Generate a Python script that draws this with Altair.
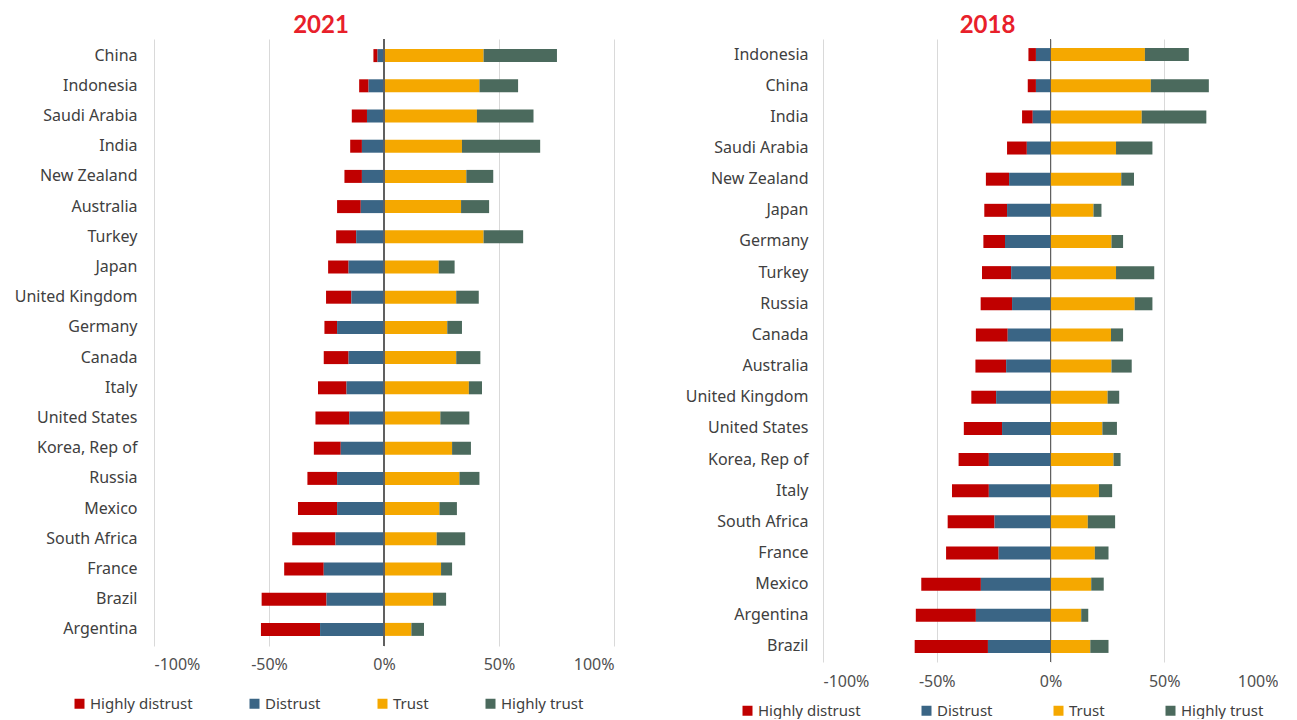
import altair as alt
import pandas as pd

categories = ["Highly distrust", "Distrust", "Trust", "Highly trust"]
colors = ["#C00000", "#3A6585", "#F5A800", "#4B6A5D"]

countries_2021 = ["China", "Indonesia", "Saudi Arabia", "India", "New Zealand", "Australia",
                  "Turkey", "Japan", "United Kingdom", "Germany", "Canada", "Italy",
                  "United States", "Korea, Rep of", "Russia", "Mexico", "South Africa",
                  "France", "Brazil", "Argentina"]
highly_distrust_2021 = [1.8, 4.1, 6.6, 5.1, 7.6, 10.3, 8.7, 8.9, 11.0, 5.5, 10.8, 12.4, 14.7, 11.7, 12.9, 17.0, 18.8, 17.2, 28.2, 25.7]
distrust_2021 = [2.8, 6.7, 7.4, 9.6, 9.6, 10.1, 12.1, 15.4, 14.2, 20.4, 15.4, 16.3, 15.1, 18.8, 20.4, 20.4, 21.1, 26.2, 25.0, 27.8]
trust_2021 = [43.3, 41.5, 40.4, 33.9, 35.8, 33.5, 43.3, 23.8, 31.4, 27.5, 31.4, 36.9, 24.5, 29.6, 32.8, 24.1, 22.9, 24.8, 21.3, 11.9]
highly_trust_2021 = [31.9, 16.8, 24.6, 34.0, 11.7, 12.2, 17.2, 6.9, 9.8, 6.4, 10.5, 5.7, 12.6, 8.2, 8.7, 7.6, 12.4, 4.8, 5.7, 5.5]

countries_2018 = ["Indonesia", "China", "India", "Saudi Arabia", "New Zealand", "Japan",
                  "Germany", "Turkey", "Russia", "Canada", "Australia", "United Kingdom",
                  "United States", "Korea, Rep of", "Italy", "South Africa", "France",
                  "Mexico", "Argentina", "Brazil"]
highly_distrust_2018 = [3.3, 3.6, 4.7, 8.7, 10.2, 10.0, 9.5, 12.8, 13.8, 14.0, 13.5, 10.9, 16.8, 13.3, 16.2, 20.6, 23.1, 26.2, 26.4, 32.2]
distrust_2018 = [6.4, 6.4, 7.8, 10.4, 18.2, 19.1, 20.0, 17.3, 16.9, 18.8, 19.5, 23.9, 21.3, 27.1, 27.1, 24.6, 22.8, 30.6, 32.8, 27.5]
trust_2018 = [41.5, 44.1, 40.1, 28.8, 31.1, 18.9, 26.8, 28.8, 37.0, 26.6, 26.8, 25.1, 22.8, 27.7, 21.3, 16.4, 19.5, 17.9, 13.5, 17.5]
highly_trust_2018 = [19.3, 25.5, 28.4, 16.0, 5.6, 3.5, 5.1, 16.8, 7.8, 5.3, 8.9, 5.1, 6.4, 3.1, 5.8, 12.0, 6.0, 5.5, 3.1, 8.0]

tick_values = [-100, -50, 0, 50, 100]
FONT = "Noto Sans"


def build_df(countries, hd, d, t, ht):
    rows = []
    series = [hd, d, t, ht]
    signs = [-1, -1, 1, 1]
    order = [2, 1, 1, 2]
    for ci, c in enumerate(countries):
        for k in range(4):
            rows.append({"country": c, "category": categories[k],
                         "value": signs[k] * series[k][ci], "ord": order[k]})
    return pd.DataFrame(rows)


def panel(df, countries, title, width, height, extent, lab_pad, leg_x, leg_y, col_pad, pad_outer, x_pad):
    bars = alt.Chart(df).mark_bar(size=13).encode(
        x=alt.X("value:Q", stack="zero",
                scale=alt.Scale(domain=[-100, 100], nice=False),
                axis=alt.Axis(values=tick_values, labelExpr="datum.value + '%'",
                              title=None, grid=True, gridColor="#D9D9D9", gridWidth=1,
                              domain=False, ticks=False, labelPadding=x_pad,
                              labelFont=FONT, labelFontSize=16, labelColor="#505050")),
        y=alt.Y("country:N", sort=countries,
                scale=alt.Scale(paddingInner=0.1, paddingOuter=pad_outer),
                axis=alt.Axis(title=None, domain=False, ticks=False,
                              labelPadding=lab_pad, minExtent=extent, maxExtent=extent,
                              labelFont=FONT, labelFontSize=16, labelColor="#404040",
                              labelLimit=300)),
        color=alt.Color("category:N", sort=categories,
                        scale=alt.Scale(domain=categories, range=colors),
                        legend=alt.Legend(title=None, orient="none", direction="horizontal",
                                          legendX=leg_x, legendY=leg_y,
                                          symbolType="square", symbolSize=100,
                                          symbolStrokeWidth=0, columnPadding=col_pad,
                                          labelFont=FONT, labelFontSize=15,
                                          labelColor="#404040", labelOffset=3)),
        order=alt.Order("ord:Q", sort="ascending"),
    )
    zero = alt.Chart(df).mark_rule(color="#606060", strokeWidth=1).encode(x=alt.datum(0))
    return alt.layer(bars, zero).properties(
        width=width, height=height,
        title=alt.TitleParams(title, color="#E8202A", fontSize=24, fontWeight="bold",
                              font="Lato", anchor="middle", frame="bounds",
                              offset=1, dx=10),
    )


df21 = build_df(countries_2021, highly_distrust_2021, distrust_2021, trust_2021, highly_trust_2021)
df18 = build_df(countries_2018, highly_distrust_2018, distrust_2018, trust_2018, highly_trust_2018)

left = panel(df21, countries_2021, "2021", 460, 607, 146, 17, -82, 657, 54, 0.1, 10)
right = panel(df18, countries_2018, "2018", 455, 623, 146, 15, -83, 664, 58, 0.05, 11)

chart = alt.hconcat(left, right, spacing=63).resolve_scale(color="independent").resolve_legend(
    color="independent"
).properties(
    padding={"left": 0, "top": 5, "right": 0, "bottom": 0}
).configure(background="white").configure_view(stroke=None)

chart.save("out.html", embed_options={"renderer": "svg", "actions": False})
